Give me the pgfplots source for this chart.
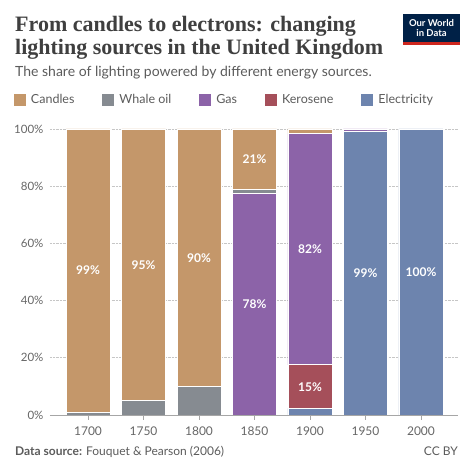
\documentclass[border=0pt]{standalone}
\usepackage{pgfplots}
\pgfplotsset{compat=1.18}
\usepackage{fontspec}
\setmainfont{Lato}
\newfontfamily\titlefont{Liberation Serif}
\definecolor{cCandles}{HTML}{C4976A}
\definecolor{cWhale}{HTML}{868B91}
\definecolor{cGas}{HTML}{8C63A8}
\definecolor{cKero}{HTML}{A54F5A}
\definecolor{cElec}{HTML}{6D84AE}
\definecolor{titlec}{HTML}{3F3F3F}
\definecolor{subc}{HTML}{5B5B5B}
\definecolor{tickc}{HTML}{666666}
\definecolor{owidblue}{HTML}{002147}
\definecolor{owidred}{HTML}{CE261E}
\tikzset{lbl/.style={text=white, font=\bfseries\fontsize{12}{14}\selectfont}}
\begin{document}
\begin{tikzpicture}
\path[use as bounding box] (0pt,0pt) rectangle (474pt,474pt);
% title
\node[anchor=base west,inner sep=0pt,text=titlec,font=\titlefont\bfseries\fontsize{22}{26}\selectfont] at (15pt,442.5pt) {From candles to electrons: changing};
\node[anchor=base west,inner sep=0pt,text=titlec,font=\titlefont\bfseries\fontsize{22}{26}\selectfont] at (15pt,419pt) {lighting sources in the United Kingdom};
\node[anchor=base west,inner sep=0pt,text=subc,font=\fontsize{14}{16}\selectfont] at (15pt,397pt) {The share of lighting powered by different energy sources.};
% logo
\fill[owidblue] (403pt,429pt) rectangle (460pt,460pt);
\fill[owidred] (403pt,429pt) rectangle (460pt,432pt);
\node[text=white,font=\bfseries\fontsize{9.5}{11}\selectfont,inner sep=0pt] at (431.5pt,451pt) {Our World};
\node[text=white,font=\bfseries\fontsize{9.5}{11}\selectfont,inner sep=0pt] at (431.5pt,440.5pt) {in Data};
% source
\node[anchor=base west,inner sep=0pt,text=subc,font=\fontsize{12}{14}\selectfont] at (15pt,18pt) {\textbf{Data source:} Fouquet \& Pearson (2006)};
\node[anchor=base east,inner sep=0pt,text=subc,font=\fontsize{12}{14}\selectfont] at (458pt,18pt) {CC BY};
\begin{axis}[
  at={(50pt,59pt)}, anchor=south west,
  scale only axis, width=408pt, height=286pt,
  ybar stacked, bar width=0.793,
  xmin=-0.685, xmax=6.667, ymin=0, ymax=100,
  axis x line*=bottom, axis y line*=left,
  x axis line style={gray!70, line width=0.8pt, -},
  y axis line style={draw=none},
  tick align=outside, major tick length=5pt,
  xtick style={gray!70, line width=0.6pt},
  ytick style={draw=none},
  xtick={0,...,6}, xticklabels={1700,1750,1800,1850,1900,1950,2000},
  ytick={0,20,40,60,80,100},
  yticklabel={\pgfmathprintnumber{\tick}\%},
  /pgf/number format/assume math mode=true,
  ymajorgrids, grid style={densely dotted, gray!45, line width=0.6pt},
  tick label style={font=\fontsize{12}{14}\selectfont, text=tickc},
  xticklabel style={yshift=-3pt},
  yticklabel style={xshift=2pt, font=\fontsize{11.5}{14}\selectfont},
  legend columns=5,
  legend style={at={(rel axis cs:0,1)}, anchor=west, xshift=-36pt, yshift=29pt,
    draw=none, fill=none, inner sep=0pt, outer sep=0pt,
    font=\fontsize{12.5}{15}\selectfont, text=subc,
    /tikz/every odd column/.style={column sep=3pt},
    /tikz/every even column/.style={column sep=26pt}},
  legend image code/.code={\fill[#1,draw=none] (0pt,-6pt) rectangle (12pt,6pt);},
  every axis plot/.append style={draw=white, line width=0.9pt},
  after end axis/.code={
    \node[lbl] at (axis cs:0,50.5) {99\%};
    \node[lbl] at (axis cs:1,52.5) {95\%};
    \node[lbl] at (axis cs:2,55) {90\%};
    \node[lbl] at (axis cs:3,89.5) {21\%};
    \node[lbl] at (axis cs:3,38.75) {78\%};
    \node[lbl] at (axis cs:4,58) {82\%};
    \node[lbl] at (axis cs:4,9.9) {15\%};
    \node[lbl] at (axis cs:5,49.5) {99\%};
    \node[lbl] at (axis cs:6,50) {100\%};
  },
]
\addlegendimage{fill=cCandles}\addlegendentry{Candles}
\addlegendimage{fill=cWhale}\addlegendentry{Whale oil}
\addlegendimage{fill=cGas}\addlegendentry{Gas}
\addlegendimage{fill=cKero}\addlegendentry{Kerosene}
\addlegendimage{fill=cElec}\addlegendentry{Electricity}
\addplot[fill=cElec] coordinates {(0,0) (1,0) (2,0) (3,0) (4,2.3) (5,99) (6,100)};
\addplot[fill=cKero] coordinates {(0,0) (1,0) (2,0) (3,0) (4,15.2) (5,0) (6,0)};
\addplot[fill=cGas] coordinates {(0,0) (1,0) (2,0) (3,77.5) (4,81) (5,1) (6,0)};
\addplot[fill=cWhale] coordinates {(0,1) (1,5) (2,10) (3,1.5) (4,0) (5,0) (6,0)};
\addplot[fill=cCandles] coordinates {(0,99) (1,95) (2,90) (3,21) (4,1.5) (5,0) (6,0)};
\end{axis}
\end{tikzpicture}
\end{document}
